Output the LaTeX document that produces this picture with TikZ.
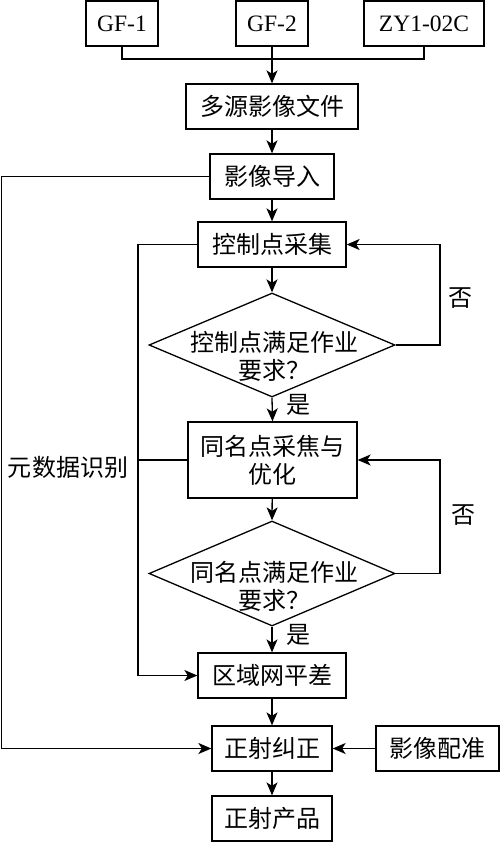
\documentclass[tikz,border=0pt]{standalone}
\usepackage{fontspec}
\setmainfont{Liberation Serif}
\newfontfamily\cjk{Noto Sans CJK SC}
\usetikzlibrary{shapes.geometric,arrows.meta}
\begin{document}
\begin{tikzpicture}[x=1pt,y=-1pt,
  line width=1.3pt,
  box/.style={draw,rectangle,inner sep=0pt,minimum height=45pt,font=\fontsize{24}{28}\selectfont\cjk,align=center},
  lbox/.style={draw,rectangle,inner sep=0pt,minimum height=45pt,font=\fontsize{23.5}{28}\selectfont},
  dia/.style={draw,diamond,inner sep=0pt,minimum width=246pt,minimum height=104pt},
  txt/.style={inner sep=0pt,font=\fontsize{24}{28}\selectfont\cjk,align=center},
  arr/.style={-{Stealth[length=13pt,width=11pt,inset=3.5pt]}}
]
\useasboundingbox (0,0) rectangle (500,842);
\node[lbox,minimum width=72pt] (g1) at (122,23.5) {GF-1};
\node[lbox,minimum width=72pt] (g2) at (272,23.5) {GF-2};
\node[lbox,minimum width=120pt] (zy) at (424,23.5) {ZY1-02C};
\node[box,minimum width=172pt] (src) at (272,106.5) {多源影像文件};
\node[box,minimum width=124pt] (imp) at (272,176.5) {影像导入};
\node[box,minimum width=148pt] (cp) at (272,244.5) {控制点采集};
\node[dia] (d1) at (272,345) {};
\node[txt] (d1t) at (274,356) {控制点满足作业\\要求？};
\node[box,minimum width=169pt,minimum height=76pt] (tp) at (272.5,460) {同名点采焦与\\优化};
\node[dia,minimum height=105pt] (d2) at (272,573.5) {};
\node[txt] (d2t) at (274,586) {同名点满足作业\\要求？};
\node[box,minimum width=148pt] (ba) at (272,675.5) {区域网平差};
\node[box,minimum width=120pt] (ortho) at (272,748.5) {正射纠正};
\node[box,minimum width=123pt] (reg) at (437.5,748.5) {影像配准};
\node[box,minimum width=120pt] (prod) at (272,818.5) {正射产品};
\node[txt] (no1) at (460,298) {否};
\node[txt] (no2) at (463,515) {否};
\node[txt] (yes1) at (298,405) {是};
\node[txt] (yes2) at (298,635) {是};
\node[txt] (meta) at (68,467) {元数据识别};
\coordinate (j) at (272,59);
\coordinate (lx) at (1.5,176.5);
\coordinate (mx) at (138,244.5);
\coordinate (mt) at (138,460);
\coordinate (r1) at (440,345);
\coordinate (r2) at (440,573.5);
\draw (g1.south) |- (j) -| (zy.south);
\draw[arr] (g2.south) -- (src.north);
\draw[arr] (src) -- (imp);
\draw[arr] (imp) -- (cp);
\draw[arr] (cp) -- (d1.north);
\draw[arr] (d1.south) -- (tp.north);
\draw[arr] (tp) -- (d2.north);
\draw[arr] (d2.south) -- (ba.north);
\draw[arr] (ba) -- (ortho);
\draw[arr] (ortho) -- (prod);
\draw[arr] (reg) -- (ortho);
\draw[arr] (d1.east) -- (r1) |- (cp.east);
\draw[arr] (d2.east) -- (r2) |- (tp.east);
\draw[arr] (imp.west) -- (lx) |- (ortho.west);
\draw[arr] (cp.west) -- (mx) |- (ba.west);
\draw (tp.west) -- (mt);
\end{tikzpicture}
\end{document}
